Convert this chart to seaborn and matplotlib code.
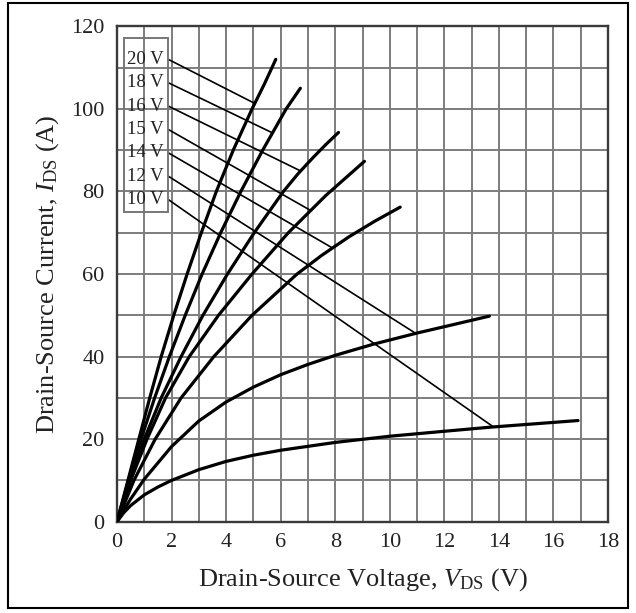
import numpy as np
import pandas as pd
import matplotlib
matplotlib.use("Agg")
import matplotlib.pyplot as plt
import seaborn as sns
from matplotlib.patches import Rectangle

# Output characteristics, one curve per gate voltage (V_DS in V, I_DS in A)
gate_labels = ["20 V", "18 V", "16 V", "15 V", "14 V", "12 V", "10 V"]

vds_20 = [0, 0.4, 0.8, 1.2, 1.62, 2.08, 2.57, 3.09, 3.64, 4.26, 4.95, 5.4, 5.82]
ids_20 = [0, 10, 20, 30, 40, 50, 60, 70, 80, 90, 100, 106, 112]

vds_18 = [0, 0.42, 0.88, 1.38, 1.92, 2.5, 3.12, 3.8, 4.54, 5.34, 6.2, 6.72]
ids_18 = [0, 10, 20, 30, 40, 50, 60, 70, 80, 90, 100, 105]

vds_16 = [0, 0.46, 1.0, 1.62, 2.35, 3.15, 4.05, 5.03, 6.1, 6.65, 7.2, 7.66, 8.12]
ids_16 = [0, 10, 20, 30, 40, 50, 60, 70, 80, 84.4, 88.3, 91.4, 94.3]

vds_15 = [0, 0.5, 1.1, 1.78, 2.65, 3.72, 4.95, 6.28, 7.65, 9.07]
ids_15 = [0, 10, 20, 30, 40, 50, 60, 70, 79, 87.3]

vds_14 = [0, 0.62, 1.4, 2.35, 3.55, 4.95, 6.6, 7.5, 8.5, 9.45, 10.38]
ids_14 = [0, 10, 20, 30, 40, 50, 60, 64.5, 69, 72.8, 76.2]

vds_12 = [0, 0.5, 1, 2, 3, 4, 5, 6, 7, 8, 9.4, 11, 12.3, 13.65]
ids_12 = [0, 5.5, 10.3, 18.2, 24.4, 29, 32.6, 35.6, 38.1, 40.3, 43.0, 45.7, 47.7, 49.8]

vds_10 = [0, 0.25, 0.5, 1, 1.5, 2, 3, 4, 5, 6, 8, 10, 12, 13.7, 15.5, 16.9]
ids_10 = [0, 2.2, 3.9, 6.5, 8.4, 10, 12.6, 14.6, 16.1, 17.3, 19.2, 20.7, 21.9, 22.9, 23.8, 24.5]

# V_DS where each label's leader line meets its curve
leader_vds = [5.05, 5.7, 6.73, 7.1, 7.9, 10.95, 13.8]

curves = [(vds_20, ids_20), (vds_18, ids_18), (vds_16, ids_16), (vds_15, ids_15),
          (vds_14, ids_14), (vds_12, ids_12), (vds_10, ids_10)]

df = pd.concat([pd.DataFrame({"vds": v, "ids": i, "vgs": lab})
                for lab, (v, i) in zip(gate_labels, curves)], ignore_index=True)

sns.set_theme(style="whitegrid")
plt.rcParams["font.family"] = ["Liberation Serif", "DejaVu Serif"]
plt.rcParams["mathtext.fontset"] = "custom"
plt.rcParams["mathtext.rm"] = "Liberation Serif"
plt.rcParams["mathtext.it"] = "Liberation Serif:italic"

fig = plt.figure(figsize=(6.36, 6.13), dpi=100)
ax = fig.add_axes([0.184, 0.149, 0.772, 0.808])

sns.lineplot(data=df, x="vds", y="ids", hue="vgs", palette=["black"] * len(gate_labels),
             estimator=None, legend=False, linewidth=2.3, ax=ax, zorder=3)

# label box with leader lines
label_top, label_step = 112.0, 5.66
label_x_left, label_x_right = 0.36, 1.88
for k, lab in enumerate(gate_labels):
    yk = label_top - k * label_step
    ax.text(label_x_left, yk, lab, fontsize=13.5, ha="left", va="center", color="#222222", zorder=4)
    v, i = curves[k]
    end_y = np.interp(leader_vds[k], v, i)
    ax.plot([label_x_right, leader_vds[k]], [yk, end_y], color="black", lw=1.2, zorder=3)

ax.add_patch(Rectangle((0.27, 75.0), 1.61, 42.3, fill=False, ec="#777777", lw=1.4, zorder=4))

ax.set_xlim(0, 18)
ax.set_ylim(0, 120)
ax.set_xticks(np.arange(0, 19, 2))
ax.set_xticks(np.arange(0, 19, 1), minor=True)
ax.set_yticks(np.arange(0, 121, 20))
ax.set_yticks(np.arange(0, 121, 10), minor=True)
ax.grid(which="both", color="#7d7d7d", linewidth=1.4)
ax.tick_params(which="both", length=0, labelsize=16, colors="#222222")
ax.tick_params(axis="x", pad=8)
ax.tick_params(axis="y", pad=9)

for s in ax.spines.values():
    s.set_visible(True)
    s.set_color("#3a3a3a")
    s.set_linewidth(1.7)

ax.set_xlabel(r"Drain-Source Voltage, $V_{\mathrm{DS}}$ (V)", fontsize=19, color="#222222", labelpad=10)
ax.set_ylabel(r"Drain-Source Current, $I_{\mathrm{DS}}$ (A)", fontsize=19, color="#222222", labelpad=7)

fig.add_artist(Rectangle((8 / 636, 5 / 613), 620 / 636, 605 / 613, transform=fig.transFigure,
                         fill=False, ec="black", lw=1.5))

fig.savefig("out.png", dpi=100, facecolor="white")
